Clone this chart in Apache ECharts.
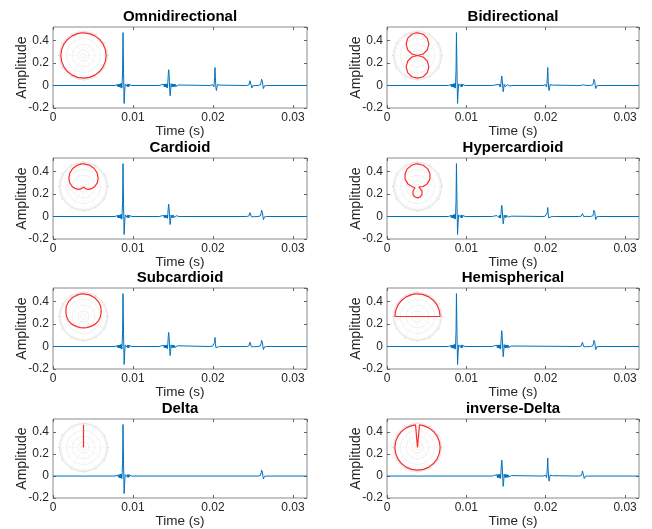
<!DOCTYPE html>
<html>
<head>
<meta charset="utf-8">
<script src="https://cdn.jsdelivr.net/npm/echarts@6/dist/echarts.min.js"></script>
<style>
  html, body { margin: 0; padding: 0; background: #fff; }
  #chart { width: 652px; height: 529px; }
</style>
</head>
<body>
<div id="chart"></div>
<script>
// panel titles, row by row (left, right)
const TITLES = ['Omnidirectional', 'Bidirectional', 'Cardioid', 'Hypercardioid',
  'Subcardioid', 'Hemispherical', 'Delta', 'inverse-Delta'];

const X_MAX = 0.03175;
const X_TICKS = [0, 0.01, 0.02, 0.03];
const Y_TICKS = [-0.2, 0, 0.2, 0.4];
const Y_MIN = -0.2, Y_MAX = 0.52;

// arrival times of the pulses (s)
const PULSE_T = [0.00875, 0.01446, 0.02025, 0.02467, 0.02612];

// peak amplitude of each pulse per panel (same order as TITLES)
const MAIN_GAIN = [0.47, 0.47, 0.47, 0.47, 0.47, 0.47, 0.47, 0];
const A_GAIN    = [0.14, 0.085, 0.11, 0.10, 0.125, 0.14, 0, 0.145];
const B_GAIN    = [0.16, 0.16, 0, 0.08, 0.08, 0, 0, 0.165];
const C_GAIN    = [0.05, 0.012, 0.04, 0.03, 0.045, 0.045, 0, 0.055];
const D_GAIN    = [0.065, 0.065, 0.065, 0.065, 0.065, 0.065, 0.065, 0];

// pulse shapes: [offset from peak in ms, value relative to peak]
const MAIN_SHAPE = [[-1.0,0],[-0.9,0.01],[-0.85,-0.012],[-0.8,0.014],[-0.75,-0.016],[-0.7,0.018],
  [-0.65,-0.02],[-0.6,0.022],[-0.55,-0.024],[-0.5,0.026],[-0.45,-0.028],[-0.4,0.03],[-0.35,-0.032],
  [-0.3,0.034],[-0.25,-0.036],[-0.2,0.04],[-0.15,-0.05],[-0.1,0.07],[-0.05,0.3],[0,1],[0.07,0.25],
  [0.14,-0.34],[0.21,-0.12],[0.28,0.03],[0.35,0.06],[0.42,0.02],[0.49,0.045],[0.55,-0.02],[0.6,0.03],
  [0.65,-0.025],[0.7,0.025],[0.75,-0.02],[0.8,0.02],[0.85,-0.015],[0.9,0.015],[0.95,-0.01],[1.0,0.01],[1.1,0]];
const A_SHAPE = [[-1.2,0],[-1.1,0.03],[-1.05,-0.035],[-1.0,0.04],[-0.95,-0.045],[-0.9,0.05],[-0.85,-0.055],
  [-0.8,0.06],[-0.75,-0.065],[-0.7,0.07],[-0.65,-0.075],[-0.6,0.08],[-0.55,-0.085],[-0.5,0.09],[-0.45,-0.095],
  [-0.4,0.1],[-0.35,-0.1],[-0.3,0.1],[-0.25,-0.12],[-0.2,0.1],[-0.15,-0.15],[-0.1,0.25],[-0.05,0.7],[0,1],
  [0.06,0.65],[0.12,-0.15],[0.18,-0.65],[0.24,-0.35],[0.3,0.12],[0.36,0.18],[0.42,-0.1],[0.48,0.1],
  [0.54,-0.09],[0.6,0.09],[0.66,-0.08],[0.72,0.08],[0.78,-0.07],[0.84,0.07],[0.9,-0.06],[0.96,0.06],
  [1.02,-0.05],[1.08,0.05],[1.14,-0.04],[1.2,0.03],[1.3,0]];
const B_SHAPE = [[-0.6,0],[-0.5,0.03],[-0.45,-0.03],[-0.4,0.035],[-0.35,-0.04],[-0.3,0.045],[-0.25,-0.05],
  [-0.2,0.06],[-0.15,-0.08],[-0.1,0.1],[-0.05,0.45],[0,1],[0.06,0.3],[0.12,-0.15],[0.18,-0.28],[0.24,-0.12],
  [0.3,0.05],[0.36,0.05],[0.42,-0.03],[0.48,0.03],[0.54,-0.02],[0.6,0.02],[0.7,0]];
const CD_SHAPE = [[-0.5,0],[-0.4,0.04],[-0.35,-0.04],[-0.3,0.05],[-0.25,-0.06],[-0.2,0.08],[-0.15,0.15],
  [-0.1,0.45],[-0.05,0.85],[0,1],[0.06,0.55],[0.12,-0.05],[0.18,-0.42],[0.24,-0.35],[0.3,-0.05],[0.36,0.1],
  [0.42,0.03],[0.48,-0.04],[0.54,0.02],[0.6,0]];

// directivity patterns, gain at each angle (deg, 0 = front/up)
const ANGLES    = [0, 5, 15, 30, 45, 60, 75, 90, 105, 120, 135, 150, 165, 180, 195, 210, 225, 240, 255, 270, 285, 300, 315, 330, 345, 355, 360];
const OMNI      = [1, 1, 1, 1, 1, 1, 1, 1, 1, 1, 1, 1, 1, 1, 1, 1, 1, 1, 1, 1, 1, 1, 1, 1, 1, 1, 1];
const BIDIR     = [1, 1, 0.97, 0.87, 0.71, 0.5, 0.26, 0, 0.26, 0.5, 0.71, 0.87, 0.97, 1, 0.97, 0.87, 0.71, 0.5, 0.26, 0, 0.26, 0.5, 0.71, 0.87, 0.97, 1, 1];
const CARDIOID  = [1, 1, 0.98, 0.93, 0.85, 0.75, 0.63, 0.5, 0.37, 0.25, 0.15, 0.07, 0.02, 0, 0.02, 0.07, 0.15, 0.25, 0.37, 0.5, 0.63, 0.75, 0.85, 0.93, 0.98, 1, 1];
const HYPER     = [1, 1, 0.97, 0.9, 0.78, 0.63, 0.44, 0.25, 0.06, 0.13, 0.28, 0.4, 0.47, 0.5, 0.47, 0.4, 0.28, 0.13, 0.06, 0.25, 0.44, 0.63, 0.78, 0.9, 0.97, 1, 1];
const SUBCARD   = [1, 1, 0.99, 0.97, 0.93, 0.88, 0.81, 0.75, 0.69, 0.63, 0.57, 0.53, 0.51, 0.5, 0.51, 0.53, 0.57, 0.63, 0.69, 0.75, 0.81, 0.88, 0.93, 0.97, 0.99, 1, 1];
const HEMI      = [1, 1, 1, 1, 1, 1, 1, 1, 0, 0, 0, 0, 0, 0, 0, 0, 0, 0, 0, 1, 1, 1, 1, 1, 1, 1, 1];
const DELTA     = [1, 0, 0, 0, 0, 0, 0, 0, 0, 0, 0, 0, 0, 0, 0, 0, 0, 0, 0, 0, 0, 0, 0, 0, 0, 0, 0];
const INV_DELTA = [0, 1, 1, 1, 1, 1, 1, 1, 1, 1, 1, 1, 1, 1, 1, 1, 1, 1, 1, 1, 1, 1, 1, 1, 1, 1, 0];
const PATTERNS = [OMNI, BIDIR, CARDIOID, HYPER, SUBCARD, HEMI, DELTA, INV_DELTA];

const FONT = "'Liberation Sans', Arial, Helvetica, sans-serif";
const TXT = '#262626';
const COL_LEFT = [53, 387];
const COL_W = [254, 252];
const ROW_TOP = [27, 158, 288, 419];
const PLOT_H = 81;

function buildTrace(i) {
  const pulses = [
    [PULSE_T[0], MAIN_GAIN[i], MAIN_SHAPE],
    [PULSE_T[1], A_GAIN[i], A_SHAPE],
    [PULSE_T[2], B_GAIN[i], B_SHAPE],
    [PULSE_T[3], C_GAIN[i], CD_SHAPE],
    [PULSE_T[4], D_GAIN[i], CD_SHAPE]
  ];
  const pts = [[0, 0]];
  pulses.forEach(([t0, g, shape]) => {
    if (!g) return;
    shape.forEach(([dt, v]) => pts.push([t0 + dt / 1000, g * v]));
  });
  pts.push([X_MAX, 0]);
  return pts;
}

const fmtTick = (ticks) => (v) => {
  const hit = ticks.find(t => Math.abs(t - v) < 1e-9);
  return hit === undefined ? '' : String(hit);
};

const option = {
  animation: false,
  backgroundColor: '#fff',
  title: [], grid: [], xAxis: [], yAxis: [], polar: [], angleAxis: [], radiusAxis: [], series: []
};

const tick = { inside: true, length: 3, lineStyle: { color: '#666' } };
const topAxes = [], rightAxes = [];
TITLES.forEach((name, i) => {
  const r = Math.floor(i / 2), c = i % 2;
  const left = COL_LEFT[c], top = ROW_TOP[r], w = COL_W[c];

  option.title.push({
    text: name, left: left + w / 2, top: top - 18, textAlign: 'center', padding: 0,
    textStyle: { fontFamily: FONT, fontSize: 15, fontWeight: 'bold', color: '#000' }
  });
  option.grid.push({
    left: left, top: top, width: w, height: PLOT_H,
    show: true, borderColor: '#8a8a8a', borderWidth: 1, backgroundColor: 'transparent'
  });
  option.xAxis.push({
    type: 'value', gridIndex: i, min: 0, max: X_MAX, interval: 0.01,
    axisLine: { show: false, onZero: false },
    axisTick: tick,
    splitLine: { show: false },
    axisLabel: { margin: 4, fontSize: 12, color: TXT, fontFamily: FONT, showMaxLabel: false, formatter: fmtTick(X_TICKS) },
    name: 'Time (s)', nameLocation: 'middle', nameGap: 16, nameMoveOverlap: false,
    nameTextStyle: { fontSize: 13.5, color: TXT, fontFamily: FONT }
  });
  topAxes.push({
    type: 'value', gridIndex: i, position: 'top', min: 0, max: X_MAX, interval: 0.01,
    axisLine: { show: false, onZero: false }, axisLabel: { show: false }, splitLine: { show: false },
    axisTick: tick
  });
  option.yAxis.push({
    type: 'value', gridIndex: i, min: Y_MIN, max: Y_MAX, interval: 0.2,
    axisLine: { show: false, onZero: false },
    axisTick: tick,
    splitLine: { show: false },
    axisLabel: { margin: 4, fontSize: 12, color: TXT, fontFamily: FONT, showMaxLabel: false, formatter: fmtTick(Y_TICKS) },
    name: 'Amplitude', nameLocation: 'middle', nameGap: 24, nameRotate: 90, nameMoveOverlap: false,
    nameTextStyle: { fontSize: 14, color: TXT, fontFamily: FONT }
  });
  rightAxes.push({
    type: 'value', gridIndex: i, position: 'right', min: Y_MIN, max: Y_MAX, interval: 0.2,
    axisLine: { show: false, onZero: false }, axisLabel: { show: false }, splitLine: { show: false },
    axisTick: tick
  });

  // polar inset with the directivity pattern
  option.polar.push({ center: [left + 30.5, top + 28.5], radius: 24 });
  option.angleAxis.push({
    polarIndex: i, type: 'value', min: 0, max: 360, interval: 30, startAngle: 90, clockwise: true,
    axisLine: { lineStyle: { color: '#e4e4e4', width: 1 } },
    axisTick: { show: true, length: 1.5, lineStyle: { color: '#d4d4d4' } },
    axisLabel: { show: false },
    splitLine: { lineStyle: { color: '#ececec', type: [1, 2] } }
  });
  option.radiusAxis.push({
    polarIndex: i, type: 'value', min: 0, max: 1.06, interval: 0.25,
    axisLine: { show: false }, axisTick: { show: false }, axisLabel: { show: false },
    splitLine: { lineStyle: { color: '#f2f2f2' } }
  });

  option.series.push({
    type: 'line', xAxisIndex: i, yAxisIndex: i, data: buildTrace(i),
    showSymbol: false, silent: true, lineStyle: { color: '#0072BD', width: 1 }
  });
  option.series.push({
    type: 'line', coordinateSystem: 'polar', polarIndex: i,
    data: ANGLES.map((a, k) => [PATTERNS[i][k], a]),
    showSymbol: false, silent: true, z: 5, lineStyle: { color: '#ff2a2a', width: 1.2 }
  });
});
option.xAxis = option.xAxis.concat(topAxes);
option.yAxis = option.yAxis.concat(rightAxes);

const chart = echarts.init(document.getElementById('chart'), null, { renderer: 'canvas' });
chart.setOption(option);
</script>
</body>
</html>
